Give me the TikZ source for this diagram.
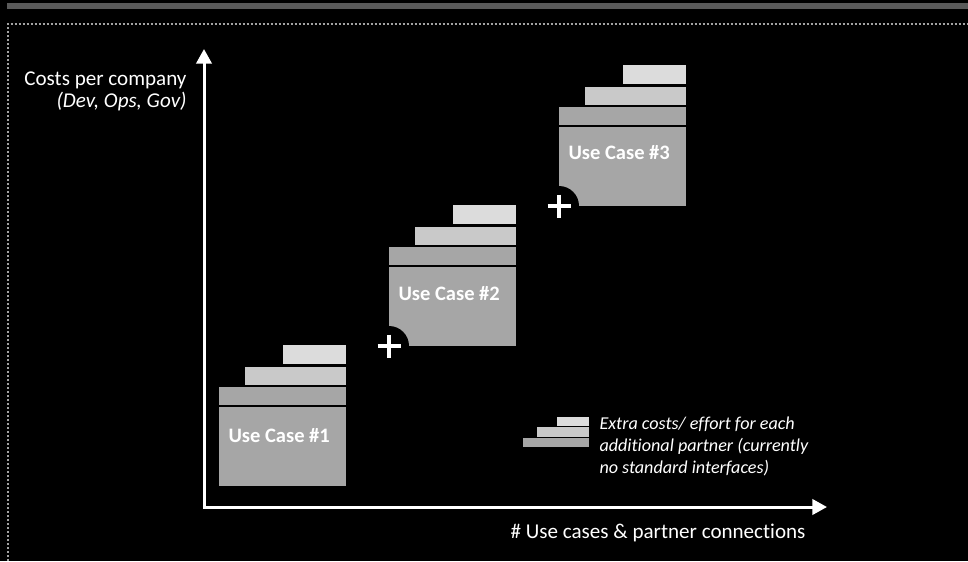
\documentclass[tikz,border=0pt]{standalone}
\usepackage{fontspec}
\setmainfont{Carlito}[Ligatures=NoCommon]
\usetikzlibrary{arrows.meta}

\definecolor{caseGray}{HTML}{A6A6A6}
\definecolor{midGray}{HTML}{C9C9C9}
\definecolor{lightGray}{HTML}{DCDCDC}
\definecolor{frameGray}{HTML}{A3A3A3}
\definecolor{headGray}{HTML}{5A5A5A}

\tikzset{every picture/.style={line width=0.75pt}}
\tikzset{
  caseBar/.style={fill=caseGray, draw=none},
  midBar/.style={fill=midGray, draw=none},
  topBar/.style={fill=lightGray, draw=none},
  axisLine/.style={draw=white, line width=2.25pt, -{Triangle[length=11pt,width=11.5pt]}},
  plusSign/.style={draw=white, line width=3pt},
  caseText/.style={anchor=west, inner sep=0.75pt, text=white, font=\fontsize{15.4}{18}\selectfont\bfseries},
  plainText/.style={inner sep=0.75pt, text=white, font=\fontsize{15.8}{16.5}\selectfont}
}

\begin{document}
\begin{tikzpicture}[x=0.75pt,y=0.75pt,yscale=-1,xscale=1]
\useasboundingbox (0,0) rectangle (968,561);
\fill[black] (0,0) rectangle (968,561);

%Shape: Rectangle [header strip]
\fill[headGray] (7,2.5) -- (968,2.5) -- (968,9) -- (7,9) -- cycle ;
%Shape: dotted frame
\draw[frameGray, line width=1.5pt, dash pattern=on 1.5pt off 1.5pt] (7.5,561) -- (7.5,24) -- (968,24) ;

%Use case 1
\fill[topBar] (283,345) -- (346,345) -- (346,364) -- (283,364) -- cycle ;
\fill[midBar] (245,367) -- (346,367) -- (346,385) -- (245,385) -- cycle ;
\fill[caseBar] (219,387) -- (346,387) -- (346,405) -- (219,405) -- cycle ;
\fill[caseBar] (219,407) -- (346,407) -- (346,486) -- (219,486) -- cycle ;

%Use case 2
\fill[topBar] (453,205) -- (516,205) -- (516,224) -- (453,224) -- cycle ;
\fill[midBar] (415,227) -- (516,227) -- (516,245) -- (415,245) -- cycle ;
\fill[caseBar] (389,247) -- (516,247) -- (516,265) -- (389,265) -- cycle ;
\fill[caseBar] (389,267) -- (516,267) -- (516,346) -- (389,346) -- cycle ;
\fill[black] (389,346) circle (20) ;
\draw[plusSign] (377.5,346) -- (400.5,346) (389,334.5) -- (389,357.5) ;

%Use case 3
\fill[topBar] (623,65) -- (686,65) -- (686,84) -- (623,84) -- cycle ;
\fill[midBar] (585,87) -- (686,87) -- (686,105) -- (585,105) -- cycle ;
\fill[caseBar] (559,107) -- (686,107) -- (686,125) -- (559,125) -- cycle ;
\fill[caseBar] (559,127) -- (686,127) -- (686,206) -- (559,206) -- cycle ;
\fill[black] (559,206) circle (20) ;
\draw[plusSign] (547.5,206) -- (570.5,206) (559,194.5) -- (559,217.5) ;

%Legend bars
\fill[topBar] (557,417) -- (589,417) -- (589,426) -- (557,426) -- cycle ;
\fill[midBar] (537,427) -- (589,427) -- (589,437) -- (537,437) -- cycle ;
\fill[caseBar] (523,438) -- (589,438) -- (589,447) -- (523,447) -- cycle ;

%Axes
\coordinate (origin) at (204,507) ;
\coordinate (ytip) at (204,49) ;
\coordinate (xtip) at (827,507) ;
\draw[axisLine] (origin) -- (ytip) ;
\draw[axisLine] ([xshift=-0.85pt]origin) -- (xtip) ;

% Text Node
\draw (227,436) node [caseText] (caseone) {Use Case \#1};
% Text Node
\draw (397,294) node [caseText] (casetwo) {Use Case \#2};
% Text Node
\draw (567,153) node [caseText] (casethree) {Use Case \#3};
% Text Node
\draw (188,70) node [plainText, anchor=north east, align=right] (ylabel) {Costs per company\\\textit{(Dev, Ops, Gov)}};
% Text Node
\draw (658,533) node [plainText] (xlabel) {\# Use cases \& partner connections};
% Text Node
\draw (598,415) node [plainText, anchor=north west, align=left, font=\fontsize{13.6}{16.5}\selectfont\itshape] (legend) {Extra costs/ effort for each\\additional partner (currently\\no standard interfaces)};

\end{tikzpicture}
\end{document}
